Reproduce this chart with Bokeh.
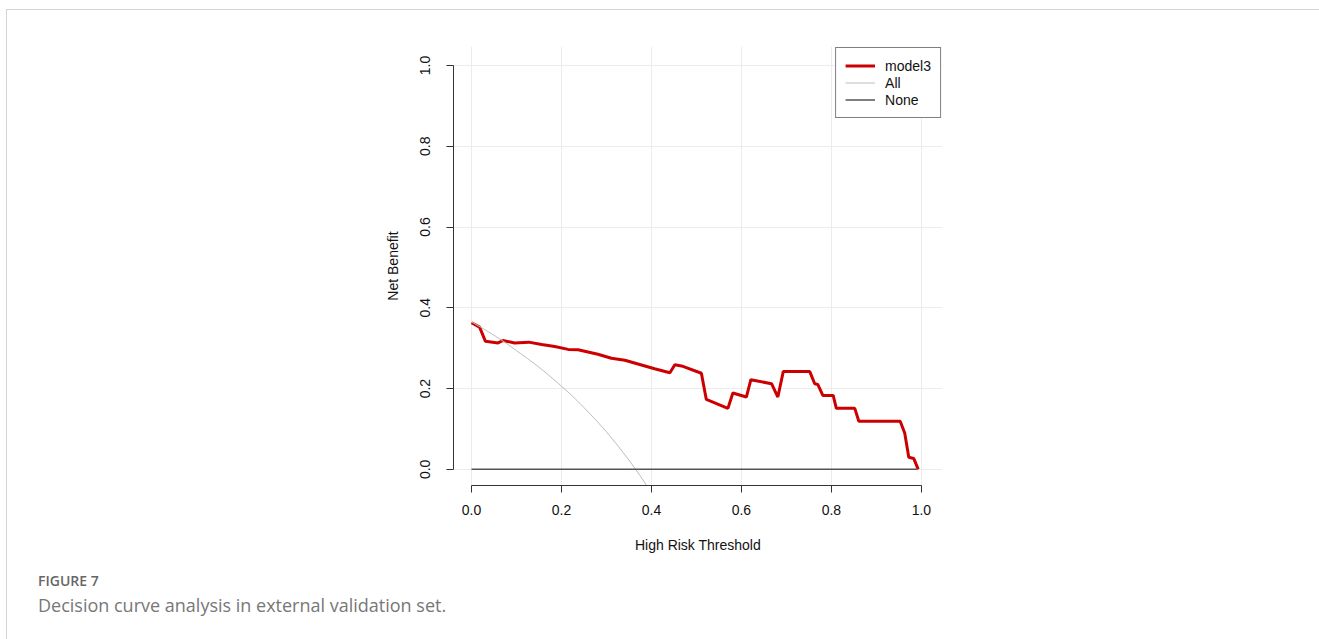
from bokeh.plotting import figure
from bokeh.models import Range1d, FixedTicker, Legend, LegendItem, Div
from bokeh.layouts import column
from bokeh.embed import file_html
from bokeh.resources import INLINE

# ---- data ----
model3_x = [0, 0.018, 0.031, 0.059, 0.070, 0.096, 0.127, 0.156, 0.185, 0.215, 0.237,
            0.281, 0.311, 0.341, 0.370, 0.407, 0.441, 0.452, 0.467, 0.511, 0.522,
            0.570, 0.581, 0.611, 0.621, 0.667, 0.681, 0.693, 0.752, 0.763, 0.770,
            0.781, 0.804, 0.811, 0.852, 0.861, 0.953, 0.963, 0.972, 0.983, 0.993]
model3_y = [0.363, 0.352, 0.317, 0.313, 0.319, 0.313, 0.315, 0.309, 0.304, 0.297, 0.296,
            0.285, 0.275, 0.270, 0.261, 0.249, 0.239, 0.259, 0.256, 0.238, 0.173,
            0.151, 0.189, 0.179, 0.222, 0.212, 0.179, 0.242, 0.242, 0.212, 0.210,
            0.183, 0.183, 0.151, 0.151, 0.119, 0.119, 0.090, 0.030, 0.027, 0.0]
all_x = [0, 0.025, 0.05, 0.075, 0.1, 0.125, 0.15, 0.175, 0.2, 0.225, 0.25, 0.275,
         0.3, 0.325, 0.35, 0.375, 0.4, 0.425]
all_y = [0.365, 0.349, 0.332, 0.314, 0.294, 0.274, 0.253, 0.230, 0.206, 0.181, 0.153,
         0.124, 0.093, 0.059, 0.023, -0.016, -0.058, -0.104]
none_x = [0, 0.99]
none_y = [0, 0]
ticks = [0, 0.2, 0.4, 0.6, 0.8, 1.0]
tick_labels = {0: "0.0", 0.2: "0.2", 0.4: "0.4", 0.6: "0.6", 0.8: "0.8", 1.0: "1.0"}
series_names = ["model3", "All", "None"]
caption_title = "FIGURE 7"
caption_text = "Decision curve analysis in external validation set."

FONT = "Liberation Sans"

p = figure(width=1313, height=560, output_backend="svg", toolbar_location=None,
           x_range=Range1d(-0.04, 1.047), y_range=Range1d(-0.04, 1.047),
           min_border_left=446, min_border_right=378, min_border_top=36, min_border_bottom=85)
p.outline_line_color = None
p.background_fill_color = "white"
p.border_fill_color = "white"

for ax in (p.xaxis[0], p.yaxis[0]):
    ax.ticker = FixedTicker(ticks=ticks)
    ax.major_label_overrides = tick_labels
    ax.bounds = (0, 1)
    ax.axis_line_color = "#333333"
    ax.major_tick_line_color = "#333333"
    ax.minor_tick_line_color = None
    ax.major_tick_out = 7
    ax.major_tick_in = 0
    ax.major_label_text_font = FONT
    ax.major_label_text_font_size = "14px"
    ax.major_label_text_color = "#111111"
    ax.axis_label_text_font = FONT
    ax.axis_label_text_font_size = "14px"
    ax.axis_label_text_font_style = "normal"
    ax.axis_label_text_color = "#111111"

p.xaxis.axis_label = "High Risk Threshold"
p.yaxis.axis_label = "Net Benefit"
p.xaxis.major_label_standoff = 12
p.xaxis.axis_label_standoff = 19
p.yaxis.major_label_standoff = 16
p.yaxis.major_label_orientation = "vertical"
p.yaxis.axis_label_standoff = 17

p.xgrid.ticker = FixedTicker(ticks=ticks)
p.ygrid.ticker = FixedTicker(ticks=ticks)
p.grid.grid_line_color = "#ececec"
p.grid.grid_line_width = 1

r_model = p.line(model3_x, model3_y, line_color="#cc0000", line_width=3)
r_all = p.line(all_x, all_y, line_color="#bdbdbd", line_width=1)
r_none = p.line(none_x, none_y, line_color="#555555", line_width=1.5)

legend = Legend(items=[LegendItem(label=series_names[0], renderers=[r_model]),
                       LegendItem(label=series_names[1], renderers=[r_all]),
                       LegendItem(label=series_names[2], renderers=[r_none])],
                location="top_right", margin=1, padding=9, spacing=0,
                label_text_font=FONT, label_text_font_size="14px", label_text_color="#111111",
                label_height=17, glyph_height=17, glyph_width=30, label_standoff=10,
                border_line_color="black", border_line_width=1,
                background_fill_color="white", background_fill_alpha=1)
p.add_layout(legend)

cap = Div(text=(
    '<div style="font-family:\'Open Sans\';font-size:14px;font-weight:600;color:#666666;'
    'line-height:18px;margin-top:2px;padding-left:31px;">' + caption_title + '</div>'
    '<div style="font-family:\'Open Sans\';font-size:18px;color:#777777;'
    'line-height:24px;margin-top:3px;padding-left:31px;">' + caption_text + '</div>'),
    width=1313, height=70, margin=0)

root = column(p, cap, margin=(9, 0, 0, 6), spacing=0,
              styles={"border-top": "1px solid #d4d4d4", "border-left": "1px solid #d4d4d4"})

open("out.html", "w").write(file_html(root, INLINE))
